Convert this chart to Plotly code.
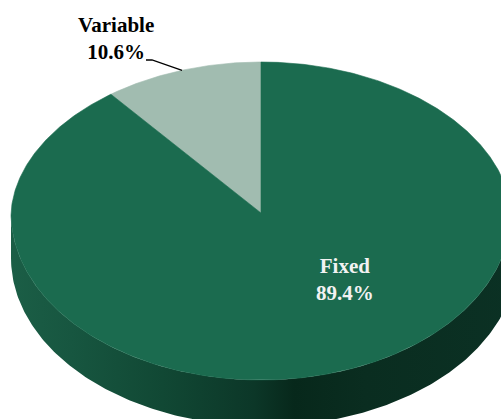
import numpy as np
import plotly.graph_objects as go

# Cost split
categories = ["Variable", "Fixed"]
shares = [10.6, 89.4]
label_text = ["Variable<br>10.6%", "Fixed<br>89.4%"]

top_colors = ["#a1bcb0", "#1b6b4f"]
side_scale = [
    [0.00, "#1b5e46"],
    [0.12, "#175640"],
    [0.30, "#114834"],
    [0.48, "#0c3728"],
    [0.56, "#07281b"],
    [0.70, "#0a2d20"],
    [1.00, "#0b3124"],
]

W, H = 501, 419
cx, cy = 261.0, 213.0         # apex of the pie on the page
rx, rx_back = 250.0, 241.0    # horizontal radius (near / far)
ry_back, ry_front = 151.0, 167.0  # perspective: far half flatter than near half
# lower rim of the disc, seen slightly larger because it is nearer
cxb, rxb, ryb, depth = 264.0, 253.0, 168.0, 45.0


def rim(theta_deg):
    t = np.radians(theta_deg)
    s, c = np.sin(t), np.cos(t)
    r_x = np.where(s > 0, rx - (rx - rx_back) * s, rx)
    r_y = np.where(s >= 0, ry_back, ry_front)
    return cx + r_x * c, cy - r_y * s


def lower_rim(theta_deg):
    t = np.radians(theta_deg)
    return cxb + rxb * np.cos(t), cy + depth - ryb * np.sin(t)


fig = go.Figure()

# Side wall (front half of the disc), lit with a horizontal gradient
ang = np.linspace(180, 360, 240)
xt, yt = rim(ang)
xb, yb = lower_rim(ang[::-1])
fig.add_trace(go.Scatter(
    x=np.concatenate([[xt[0]], [xb[-1]], xt, xb, xt[:1]]),
    y=np.concatenate([[yt[0]], [yt[0]], yt, yb, yt[:1]]),
    mode="lines", line=dict(width=0), fill="toself",
    fillgradient=dict(type="horizontal", colorscale=side_scale),
    hoverinfo="skip", showlegend=False,
))

# Top face slices, counter-clockwise from 12 o'clock
start = 90.0
mids = []
for name, val, col in zip(categories, shares, top_colors):
    sweep = 360.0 * val / sum(shares)
    a = np.linspace(start, start + sweep, max(int(sweep * 2), 8))
    xs, ys = rim(a)
    fig.add_trace(go.Scatter(
        x=np.concatenate([[cx], xs, [cx]]),
        y=np.concatenate([[cy], ys, [cy]]),
        mode="lines", line=dict(width=0.6, color=col), fill="toself",
        fillcolor=col, name=name, hoverinfo="skip", showlegend=False,
    ))
    mids.append(start + sweep / 2)
    start += sweep

# Leader line for the small slice
mx, my = rim(np.array(mids[0]))
fig.add_trace(go.Scatter(
    x=[float(mx), 152, 146], y=[float(my), 60, 60],
    mode="lines", line=dict(color="black", width=1.3),
    hoverinfo="skip", showlegend=False,
))

font_family = "Liberation Serif"
fig.add_annotation(x=116, y=38, text=label_text[0], showarrow=False,
                   font=dict(family=font_family, size=21, color="black"),
                   align="center")
fig.add_annotation(x=345, y=279, text=label_text[1], showarrow=False,
                   font=dict(family=font_family, size=21, color="#f2f2f2"),
                   align="center")

# Labels in bold
for ann in fig.layout.annotations:
    ann.text = "<b>" + ann.text.replace("<br>", "</b><br><b>") + "</b>"

fig.update_layout(
    width=W, height=H,
    margin=dict(l=0, r=0, t=0, b=0),
    paper_bgcolor="white", plot_bgcolor="white",
    xaxis=dict(range=[0, W], visible=False, fixedrange=True),
    yaxis=dict(range=[H, 0], visible=False, fixedrange=True),
)

fig.write_html("out.html")
